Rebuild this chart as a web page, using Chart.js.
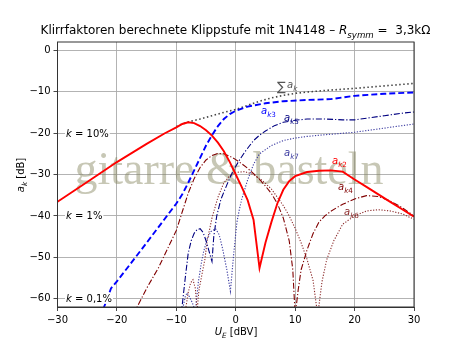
<!DOCTYPE html>
<html>
<head>
<meta charset="utf-8">
<script src="https://cdn.jsdelivr.net/npm/chart.js@4"></script>
<style>
  body { margin: 0; background: #fff; }
</style>
</head>
<body>
<canvas id="chart" width="460" height="345"></canvas>
<script>
// tick values
const xTicks = [-30, -20, -10, 0, 10, 20, 30];
const yTicks = [-60, -50, -40, -30, -20, -10, 0];

// a_k2 (solid red)
const k2X = [-30, -25, -20, -15, -12, -10, -9, -8, -7, -6, -5, -4, -3, -2, -1, 0, 1, 2, 3, 4, 5, 6, 7, 8, 9, 10, 12, 14, 16, 18, 20, 22, 24, 26, 28, 30];
const k2Y = [-36.6, -31.8, -27, -22.6, -20.1, -18.6, -17.8, -17.4, -17.6, -18.3, -19.3, -20.6, -22.3, -24.4, -27, -30, -33, -36.2, -41, -52.6, -46.5, -41.5, -37, -33.7, -31.6, -30.4, -29.4, -29.1, -29, -29.3, -31.2, -33, -34.8, -36.6, -38.4, -40.2];

// a_k3 (dashed blue)
const k3X = [-22.3, -21.5, -21, -20, -18, -15, -12, -10, -9, -8, -7, -6, -5, -4, -3, -2, -1, 0, 2, 5, 8, 12, 16, 18, 20, 25, 30];
const k3Y = [-62.5, -59.5, -57.5, -55.8, -52.1, -46.5, -40.8, -37, -34.8, -32, -29, -26, -23, -20.5, -18.3, -16.6, -15.4, -14.6, -13.6, -12.8, -12.3, -12, -11.8, -11.4, -11, -10.5, -10.2];

// a_k4 (dash-dot maroon)
const k4X = [-17, -16.6, -15, -13, -11, -10, -9, -8, -7, -6, -5, -4, -3, -2, -1, 0, 1, 2, 3, 4, 5, 6, 7, 8, 9, 9.6, 10, 10.5, 11, 12, 13, 14, 15, 16, 17, 18, 20, 22, 24, 26, 28, 30];
const k4Y = [-64, -62, -57.5, -52.5, -46.5, -43.5, -39, -34.5, -31, -28.3, -26.5, -25.4, -24.9, -25, -25.6, -26.4, -27.4, -28.5, -29.8, -31.2, -32.8, -34.6, -37, -40.5, -46, -53, -64, -58, -53, -48.2, -44.3, -41.5, -40, -38.9, -38, -37.2, -35.9, -35.1, -35.3, -36.4, -38, -40];

// a_k5 (dash-dot navy)
const k5X = [-9.2, -8.5, -8, -7.5, -7, -6.5, -6, -5.5, -5, -4.5, -4, -3.7, -3.2, -2.5, -1.5, -0.5, 0.5, 1.5, 3, 4, 5, 6.5, 8, 10, 12, 15, 18, 20, 22, 25, 28, 30];
const k5Y = [-64, -55, -49, -46, -44.2, -43.3, -43.1, -44, -46, -48.5, -51, -45, -40, -36, -32.5, -29.3, -26.8, -24.6, -21.8, -20.5, -19.5, -18.2, -17.4, -16.9, -16.6, -16.6, -16.8, -16.8, -16.4, -15.8, -15.2, -14.9];

// a_k6 (dotted maroon)
const k6X = [-8.6, -8, -7.6, -7.2, -6.8, -6.5, -6.2, -5.7, -5.2, -4.8, -4, -3, -2, -1, 0, 1.5, 3, 4.5, 6, 7, 8, 9, 10, 11, 12, 13, 13.8, 14.5, 15.3, 16.5, 18, 20, 22, 24, 26, 28, 30];
const k6Y = [-64, -58.5, -56.2, -55.4, -57.5, -63, -58, -54.2, -50.5, -46, -40.5, -35.5, -32, -30.3, -29.5, -29.3, -30, -31.5, -33.5, -35.5, -37.5, -40, -43, -46.5, -50.5, -55.5, -64, -56, -50.6, -46, -42, -40, -38.8, -38.5, -38.8, -39.5, -40.8];

// a_k7 (dotted blue)
const k7X = [-9, -8.5, -8.2, -7.8, -7.3, -6.8, -6.3, -5.8, -5.4, -4.8, -4.2, -3.4, -2.8, -2.2, -1.5, -0.9, -0.4, 0.2, 0.6, 1, 2, 3, 4, 5, 6, 8, 10, 12, 15, 20, 25, 30];
const k7Y = [-63, -59.5, -58.6, -59.5, -61, -63, -56, -51.5, -48.6, -45.5, -43.8, -43.1, -44.5, -48, -53, -58.2, -50, -41.5, -38.5, -36, -31.3, -27.5, -25, -24, -23, -21.8, -21.2, -20.8, -20.4, -19.8, -18.8, -17.8];

// sum of all (dotted gray)
const sumX = [-10, -9, -8, -6, -4, -2, 0, 2, 4, 6, 8, 10, 12, 15, 20, 25, 30];
const sumY = [-18.4, -17.8, -17.3, -16.6, -15.8, -15, -14.3, -13.3, -12.3, -11.5, -10.9, -10.4, -10.1, -9.7, -9.2, -8.6, -8];

const FONT = '"DejaVu Sans", sans-serif';

const pts = (xs, ys) => xs.map((x, i) => ({x: x, y: ys[i]}));

function series(xs, ys, color, width, dash) {
    return {
        data: pts(xs, ys),
        borderColor: color,
        backgroundColor: color,
        borderWidth: width,
        borderDash: dash,
        pointRadius: 0,
        fill: false,
        tension: 0
    };
}

function fontFor(p, size) {
    const sz = p.sub ? size * 0.72 : size;
    return (p.it ? 'italic ' : '') + sz + 'px ' + FONT;
}

function measureRich(ctx, parts, size) {
    let w = 0;
    parts.forEach(p => { ctx.font = fontFor(p, size); p.w = ctx.measureText(p.t).width; w += p.w; });
    return w;
}

function drawRich(ctx, parts, x, y, size, color, align) {
    ctx.save();
    ctx.fillStyle = color;
    ctx.textBaseline = 'alphabetic';
    ctx.textAlign = 'left';
    const w = measureRich(ctx, parts, size);
    let cx = align === 'center' ? x - w / 2 : (align === 'right' ? x - w : x);
    parts.forEach(p => {
        ctx.font = fontFor(p, size);
        ctx.fillText(p.t, cx, y + (p.sub ? size * 0.3 : 0));
        cx += p.w;
    });
    ctx.restore();
    return w;
}

const ak = (n) => [{t: 'a', it: 1}, {t: 'k', it: 1, sub: 1}, {t: n, sub: 1}];

const textPlugin = {
    id: 'texts',
    beforeDatasetsDraw(chart) {
        const ctx = chart.ctx;
        ctx.save();
        ctx.font = '46px "Liberation Serif", serif';
        ctx.fillStyle = 'rgba(130,130,90,0.45)';
        ctx.textAlign = 'center';
        ctx.textBaseline = 'alphabetic';
        ctx.fillText('gitarre & basteln', 229, 184);
        ctx.restore();
    },
    afterDraw(chart) {
        const ctx = chart.ctx;
        const a = chart.chartArea;
        ctx.save();
        ctx.strokeStyle = '#333';
        ctx.lineWidth = 1;
        ctx.strokeRect(a.left, a.top, a.right - a.left, a.bottom - a.top);
        ctx.restore();

        // title
        drawRich(ctx, [
            {t: 'Klirrfaktoren berechnete Klippstufe mit 1N4148 \u2013 '},
            {t: 'R', it: 1}, {t: 'symm', it: 1, sub: 1},
            {t: ' =  3,3k\u03a9'}
        ], 235.5, 34, 12, '#000', 'center');

        // axis titles
        drawRich(ctx, [{t: 'U', it: 1}, {t: 'E', it: 1, sub: 1}, {t: ' [dBV]'}], 236, 335, 10, '#000', 'center');
        ctx.save();
        ctx.translate(21, 175);
        ctx.rotate(-Math.PI / 2);
        drawRich(ctx, [{t: 'a', it: 1}, {t: 'k', it: 1, sub: 1}, {t: ' [dB]'}], 0, 3, 10, '#000', 'center');
        ctx.restore();

        // k = ... marks
        const y = chart.scales.y;
        [[-20, '10%'], [-40, '1%'], [-60, '0,1%']].forEach(([v, s]) => {
            const parts = [{t: 'k', it: 1}, {t: ' = ' + s}];
            const w = measureRich(ctx, parts, 10);
            const py = y.getPixelForValue(v);
            ctx.fillStyle = '#fff';
            ctx.fillRect(65, py - 5, w + 2, 10);
            drawRich(ctx, parts, 66, py + 3.5, 10, '#000', 'left');
        });

        // series labels
        ctx.save();
        ctx.font = '13px ' + FONT;
        ctx.fillStyle = '#555';
        ctx.fillText('\u2211', 277, 91);
        ctx.restore();
        drawRich(ctx, [{t: 'a', it: 1}, {t: 'k', it: 1, sub: 1}], 287, 88, 10, '#555', 'left');
        drawRich(ctx, ak('3'), 261, 114, 10, '#0000ff', 'left');
        drawRich(ctx, ak('5'), 284, 121, 10, '#000080', 'left');
        drawRich(ctx, ak('7'), 284, 156, 10, '#3a3aa0', 'left');
        drawRich(ctx, ak('2'), 332, 164, 10, '#ff0000', 'left');
        drawRich(ctx, ak('4'), 338, 190, 10, '#800000', 'left');
        drawRich(ctx, ak('6'), 344, 215, 10, '#8b2a2a', 'left');
    }
};

const minus = v => v < 0 ? '\u2212' + (-v) : String(v);

new Chart(document.getElementById('chart').getContext('2d'), {
    type: 'line',
    data: {
        datasets: [
            series(k2X, k2Y, '#ff0000', 1.9, []),
            series(k3X, k3Y, '#0000ff', 1.9, [6, 3]),
            series(sumX, sumY, '#444444', 1.6, [1.5, 2.5]),
            series(k4X, k4Y, '#800000', 1.1, [6, 2, 1.2, 2]),
            series(k5X, k5Y, '#000080', 1.1, [6, 2, 1.2, 2]),
            series(k6X, k6Y, '#8b2a2a', 1.1, [1.2, 1.6]),
            series(k7X, k7Y, '#3a3aa0', 1.1, [1.2, 1.6])
        ]
    },
    options: {
        responsive: false,
        animation: false,
        devicePixelRatio: 1,
        layout: { padding: { top: 42, right: 46, left: 0, bottom: 0 } },
        plugins: {
            legend: { display: false },
            tooltip: { enabled: false }
        },
        scales: {
            x: {
                type: 'linear',
                min: -30,
                max: 30,
                afterBuildTicks: s => { s.ticks = xTicks.map(v => ({value: v})); },
                afterFit: s => { s.height = 38; },
                grid: { color: '#aaaaaa', lineWidth: 0.9, tickColor: '#333', tickLength: 4 },
                border: { color: '#333', width: 1 },
                ticks: { color: '#000', font: { family: FONT, size: 10 }, padding: 3, maxRotation: 0, callback: minus }
            },
            y: {
                type: 'linear',
                min: -62,
                max: 2,
                afterBuildTicks: s => { s.ticks = yTicks.map(v => ({value: v})); },
                afterFit: s => { s.width = 57.5; },
                grid: { color: '#aaaaaa', lineWidth: 0.9, tickColor: '#333', tickLength: 4 },
                border: { color: '#333', width: 1 },
                ticks: { color: '#000', font: { family: FONT, size: 10 }, padding: 3, callback: minus }
            }
        }
    },
    plugins: [textPlugin]
});
</script>
</body>
</html>
